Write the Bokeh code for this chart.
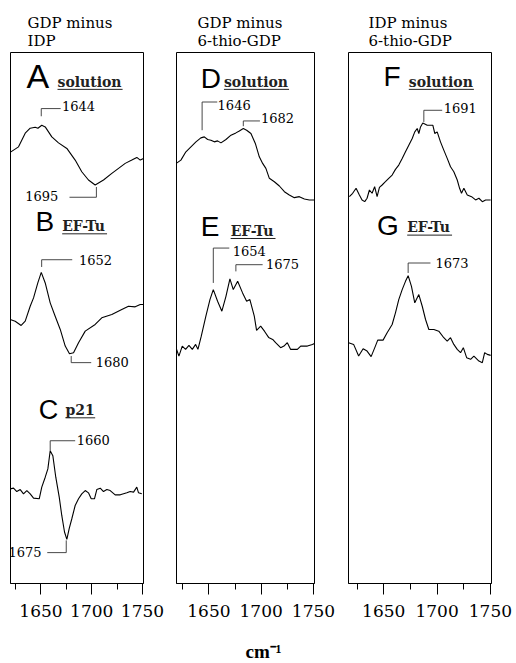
from bokeh.plotting import figure
from bokeh.layouts import row
from bokeh.models import Range1d, FixedTicker, Label, Title
from bokeh.embed import file_html
from bokeh.resources import INLINE

# ---------------- data (wavenumber in cm-1, difference absorbance, arbitrary units) -------------
wn_A = [1620, 1627.9, 1634.5, 1639.4, 1644.3, 1647.0, 1650.8, 1654.2, 1660.7, 1667.3, 1675.5,
        1683.7, 1690.2, 1696.8, 1703.4, 1711.6, 1719.8, 1726.4, 1733.0, 1739.5, 1744.4, 1747.8, 1751]
dA_A = [3, 8.3, 22, 27, 28, 27, 30, 28.3, 18.3, 12.3, 6.7,
        -5, -16.7, -25, -30, -25, -18.3, -13.3, -8.3, -5, -2.3, -5, -3.3]

wn_B = [1619.7, 1624.6, 1630.5, 1634.5, 1639.4, 1642.7, 1646.9, 1650.3, 1654.2, 1659.1, 1664.0,
        1669.0, 1673.9, 1678.1, 1682.1, 1687.0, 1693.6, 1703.4, 1709.9, 1719.8, 1729.6, 1736.2,
        1742.8, 1747.8, 1751]
dA_B = [0, -1.7, -6, -1.7, 13.3, 21.7, 36.7, 47.3, 36.7, 16.7, 3.3,
        -10, -26.7, -34.3, -33.3, -23.3, -11.7, -5, 1.7, 5, 10, 13.3,
        12.7, 15, 15]

wn_C = [1619.7, 1623.0, 1626.2, 1629.6, 1632.8, 1636.1, 1639.4, 1642.7, 1648.3, 1650.8, 1654.2,
        1656.8, 1659.1, 1661.7, 1664.6, 1668.0, 1670.5, 1673.2, 1675.5, 1677.8, 1680.4, 1683.7,
        1687.0, 1690.2, 1693.6, 1696.8, 1699.5, 1702.7, 1705.0, 1708.4, 1711.6, 1714.9, 1718.2,
        1723.1, 1728.1, 1734.6, 1737.9, 1741.2, 1744.4, 1746.1, 1749.3]
dA_C = [2, 2.7, -0.7, 1.3, -3, 0.3, -3, -7.3, -8, 3.7, 13.7,
        22, 40.3, 35.3, 13.7, -6.3, -24.7, -41.3, -48.7, -38, -28, -14.7,
        -8, -3, 0.3, -2, -8, -8, 1.3, 2.7, -0.7, 1.3, 0.3,
        -4, -4, -2, -0.7, -1.3, 3.7, -2, -3]

wn_D = [1619.1, 1623.2, 1628.0, 1632.8, 1637.6, 1642.3, 1645.6, 1648.8, 1651.9, 1655.2, 1658.3,
        1661.5, 1666.3, 1671.1, 1675.8, 1679.1, 1682.9, 1686.1, 1690.2, 1694.4, 1698.2, 1701.4,
        1704.5, 1707.8, 1712.6, 1717.4, 1722.2, 1726.9, 1731.7, 1736.5, 1741.3, 1746.1, 1750.9]
dA_D = [0, 3, 11.3, 16.3, 21.3, 25.3, 26.3, 23.7, 23, 21.3, 22.3,
        20.3, 23.7, 28, 30.3, 32.3, 34.7, 33, 29.7, 19.7, 6.3, -0.3,
        -5.3, -15.3, -18.7, -23, -28.7, -32, -34.7, -33.7, -36, -37, -37]

wn_E = [1619.1, 1621.3, 1624.5, 1627.7, 1630.9, 1634.1, 1637.3, 1639.5, 1642.7, 1647.1, 1651.0,
        1654.2, 1658.3, 1662.4, 1666.3, 1670.1, 1673.3, 1677.5, 1682.2, 1686.1, 1689.2, 1693.4,
        1695.6, 1699.5, 1703.3, 1707.1, 1711.0, 1713.8, 1718.6, 1721.8, 1725.0, 1728.2, 1734.6,
        1737.8, 1744.2, 1749.0, 1750.9]
dA_E = [-2, -8.7, 1.3, -2, 2, -2, 3, -2, 11.3, 31.3, 48,
        58, 46.3, 36.3, 51.3, 68.7, 58, 66.3, 54.7, 46.3, 48, 31.3,
        17, 21.3, 16, 10, 8, 4.7, -0.3, 1.3, 4.7, -2, -2,
        1.3, 1.3, 3, 4]

wn_F = [1617.8, 1620.9, 1624.1, 1627.2, 1629.7, 1632.2, 1634.4, 1636.6, 1639.1, 1641.5, 1643.8,
        1646.0, 1648.5, 1651.6, 1654.7, 1657.9, 1661.0, 1664.1, 1667.3, 1670.4, 1673.5, 1676.7,
        1679.1, 1681.4, 1682.9, 1684.5, 1686.6, 1690.8, 1696.0, 1697.9, 1700.1, 1703.2, 1706.3,
        1709.5, 1712.6, 1715.7, 1718.9, 1721.1, 1722.9, 1725.1, 1728.3, 1732.3, 1736.1, 1739.2,
        1742.4, 1745.5, 1750.2]
dA_F = [-0.7, 2.7, 7.7, 1, -4, -5.7, -2.3, 6, 2.7, 9.3, -0.7,
        8.7, 11, 14.3, 17.7, 21, 26.7, 31, 37.7, 44.3, 51, 57.7,
        64.3, 67.7, 62.7, 69.3, 73.3, 71, 71, 62.7, 64.3, 54.3, 46,
        37.7, 29.3, 24.3, 16, 7.7, 2.7, 7.7, 1, -0.7, -4, -2.3,
        -5.7, -4, -4]

wn_G = [1617.1, 1621.8, 1626.5, 1630.7, 1634.4, 1638.2, 1642.2, 1644.4, 1649.4, 1653.2, 1657.9,
        1661.0, 1664.1, 1667.3, 1670.4, 1672.9, 1676.0, 1679.1, 1682.9, 1686.1, 1689.2, 1692.3,
        1697.0, 1701.6, 1706.3, 1709.5, 1712.6, 1715.7, 1718.9, 1722.0, 1724.6, 1727.7, 1731.4,
        1734.5, 1739.2, 1742.4, 1744.6, 1747.1, 1750.2]
dA_G = [6.7, 5, -6.7, 0.7, -1.7, -7.3, 3.3, 9.3, 9.3, 16.7, 25,
        36.7, 50, 60, 68.3, 74, 63.3, 46.7, 55, 43.3, 30, 20,
        20, 18.3, 11.7, 8.3, 11.7, 5, 0, -3.3, 1.7, -8.3, -10,
        -6.7, -11.7, -13.3, -3.3, -5, -6]

panel_titles = [["GDP minus", " IDP"], ["GDP minus", "6-thio-GDP"], ["IDP minus", "6-thio-GDP"]]
trace_letters = ["A", "B", "C", "D", "E", "F", "G"]
trace_samples = ["solution", "EF-Tu", "p21", "solution", "EF-Tu", "solution", "EF-Tu"]
band_labels = ["1644", "1695", "1652", "1680", "1660", "1675",
               "1646", "1682", "1654", "1675", "1691", "1673"]
major_ticks = [1650, 1700, 1750]
minor_ticks = [1625, 1675, 1725]
axis_unit = "cm\u207b\u00b9"

# ---------------- layout / style -------------------------------------------------------------
SERIF = "DejaVu Serif"
SANS = "Liberation Sans"
H, BT, BB = 663, 52, 78
FRAME_H = H - BT - BB
BASE_SHIFT = 0.41   # Label anchor -> alphabetic baseline correction (in em)

panels = [
    dict(xr=(1620, 1751), fw=133, bl=10, br=24, title_off=17,
         traces=[(wn_A, dA_A, 430), (wn_B, dA_B, 265), (wn_C, dA_C, 93)],
         letters=[(0, 1635.8, 495, 34, 1666.3, 498), (1, 1644.6, 352, 28, 1670.9, 353),
                  (2, 1647.9, 163.3, 27, 1674.2, 168.3)],
         marks=[(0, 1650.3, 469, 476.7, 1669.4, 1670.7, 474),
                (1, 1704.6, 398, 387.7, 1678.1, 1634.5, 383.3),
                (2, 1650.7, 317.7, 325, 1680.8, 1687.4, 319),
                (3, 1679.8, 228.3, 221.7, 1699.5, 1704.0, 216.7),
                (4, 1659.1, 133.3, 143.3, 1683.7, 1685.3, 138.3),
                (5, 1674.9, 43.3, 31, 1656.2, 1618.0, 26.7)]),
    dict(xr=(1619, 1751), fw=138, bl=9, br=24, title_off=21,
         traces=[(wn_D, dA_D, 422), (wn_E, dA_E, 237)],
         letters=[(3, 1642.1, 495, 28, 1664.4, 498), (4, 1642.1, 347, 28, 1670.8, 348.3)],
         marks=[(6, 1643.5, 455, 483.3, 1658.0, 1658.3, 475),
                (7, 1682.9, 459, 464.3, 1698.8, 1699.8, 462),
                (8, 1654.2, 301.7, 336.7, 1669.5, 1672.7, 328.3),
                (9, 1675.8, 313.3, 320, 1701.4, 1704.5, 315)]),
    dict(xr=(1617, 1751), fw=143, bl=10, br=25, title_off=20,
         traces=[(wn_F, dA_F, 389), (wn_G, dA_G, 235)],
         letters=[(5, 1649.7, 497, 28, 1673.5, 498), (6, 1643.8, 348.3, 28, 1672.0, 351.7)],
         marks=[(10, 1687.6, 463.3, 475, 1704.8, 1706.3, 471.7),
                (11, 1672.9, 311.7, 321.7, 1693.8, 1698.5, 316.7)]),
]

# em widths of DejaVu Serif Bold, for underline lengths
EMW = {"s": .595, "o": .676, "l": .375, "u": .737, "t": .478, "i": .375, "n": .737,
       "E": .734, "F": .676, "-": .374, "T": .683, "p": .727, "2": .696, "1": .696}
SAMPLE_FS = 14
NUM_FS = 13


def text_label(x, y, text, font, fs, style="normal", color="black"):
    return Label(x=x, y=y + BASE_SHIFT * fs, text=text, text_font=font, text_font_style=style,
                 text_font_size=f"{fs}px", text_color=color,
                 text_baseline="alphabetic", text_align="left")


figs = []
for pi, pc in enumerate(panels):
    W = pc["bl"] + pc["fw"] + pc["br"]
    p = figure(width=W, height=H, output_backend="svg", toolbar_location=None,
               x_range=Range1d(*pc["xr"]), y_range=Range1d(0, FRAME_H),
               y_axis_location=None, title=None, tools="")
    p.min_border_left = pc["bl"]
    p.min_border_right = pc["br"]
    p.min_border_top = BT
    p.min_border_bottom = BB
    p.outline_line_color = "black"
    p.outline_line_width = 1
    p.background_fill_color = "white"
    p.border_fill_color = "white"
    p.xgrid.grid_line_color = None
    p.ygrid.grid_line_color = None

    ax = p.xaxis[0]
    ax.ticker = FixedTicker(ticks=major_ticks, minor_ticks=minor_ticks)
    ax.axis_line_color = "black"
    ax.major_tick_line_color = "black"
    ax.minor_tick_line_color = "black"
    ax.major_tick_out = 11
    ax.major_tick_in = 0
    ax.minor_tick_out = 6
    ax.minor_tick_in = 0
    ax.major_label_text_font = SERIF
    ax.major_label_text_font_size = "17px"
    ax.major_label_text_color = "black"
    ax.major_label_standoff = 10

    ppu = pc["fw"] / (pc["xr"][1] - pc["xr"][0])

    for wn, dA, off in pc["traces"]:
        p.line(wn, [v + off for v in dA], line_color="black", line_width=1.1)

    for (li, lx, ly, lfs, sx, sy) in pc["letters"]:
        p.add_layout(text_label(lx, ly, trace_letters[li], SANS, lfs))
        word = trace_samples[li]
        p.add_layout(text_label(sx, sy, word, SERIF, SAMPLE_FS, "bold", "#222222"))
        wpx = sum(EMW.get(c, .6) for c in word) * SAMPLE_FS
        p.segment(x0=[sx], y0=[sy - 2], x1=[sx + wpx / ppu], y1=[sy - 2],
                  line_color="#222222", line_width=1)

    xs, ys = [], []
    for (bi, mx, y0, y1, xe, tx, ty) in pc["marks"]:
        xs.append([mx, mx, xe])
        ys.append([y0, y1, y1])
        p.add_layout(text_label(tx, ty, band_labels[bi], SERIF, NUM_FS))
    p.multi_line(xs, ys, line_color="#333333", line_width=0.9)

    # two-line panel heading
    p.add_layout(Title(text="\n".join(panel_titles[pi]), align="left", offset=pc["title_off"],
                       standoff=5, text_font=SERIF, text_font_size="15px",
                       text_line_height=1.0,
                       text_font_style="normal", text_color="black"), "above")
    if pi == 1:
        # blank first line pushes the unit label down to the bottom of the page
        p.add_layout(Title(text=" \n" + axis_unit, align="left", offset=69, standoff=2,
                           text_font="Liberation Serif", text_font_size="19px",
                           text_line_height=0.9,
                           text_font_style="bold", text_color="black"), "below")
    figs.append(p)

layout = row(*figs, spacing=0)
open("out.html", "w").write(file_html(layout, INLINE))
